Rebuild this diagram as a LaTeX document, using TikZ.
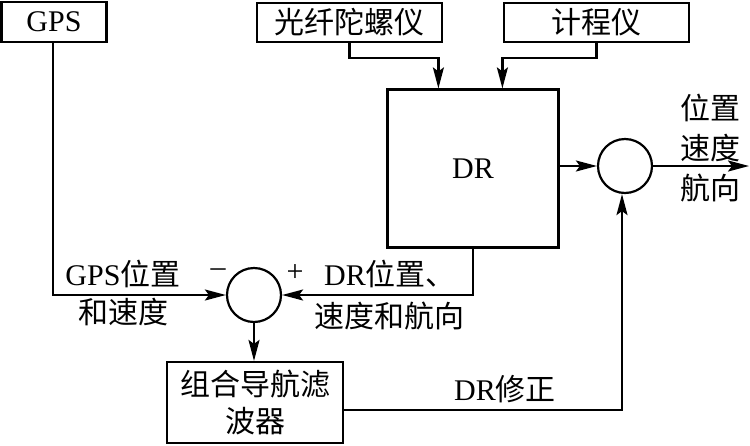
\documentclass[tikz,border=0pt]{standalone}
\usepackage{fontspec}
\setmainfont{Liberation Serif}
\newfontfamily\cjk{Noto Sans CJK SC}
\usetikzlibrary{arrows.meta,calc}
\begin{document}
\begin{tikzpicture}[x=1pt,y=-1pt,
  every node/.style={font=\fontsize{30}{37}\selectfont},
  blk/.style={draw,line width=2.2pt,inner sep=0pt,align=center},
  sumnode/.style={draw,circle,line width=2.2pt,inner sep=0pt,minimum size=54pt},
  lbl/.style={inner sep=0pt},
  conn/.style={line width=2.2pt},
  arr/.style={conn,-{Stealth[length=21pt,width=11pt,inset=4pt]}}]
\useasboundingbox (0,0) rectangle (750,445);
% blocks
\node[blk,minimum width=105pt,minimum height=40pt] (gps) at (54,22) {GPS};
\node[blk,minimum width=185pt,minimum height=39pt] (gyro) at (349.5,22.5) {\cjk 光纤陀螺仪};
\node[blk,minimum width=185pt,minimum height=39pt] (odo) at (596.5,22.5) {\cjk 计程仪};
\node[blk,minimum width=171pt,minimum height=158pt] (dr) at (473,168.5) {DR};
\node[blk,minimum width=176pt,minimum height=81pt] (filt) at (255,402.5) {{\cjk 组合导航滤}\\{\cjk 波器}};
\node[sumnode] (outc) at (625,166) {};
\node[sumnode] (sumc) at (254,295) {};
\coordinate (outend) at (749,166);
% connectors
\draw[arr] ([xshift=-1pt]gps.south) |- (sumc.west);
\draw[arr] (gyro.south) -- ++(0,15) -| ($(dr.north west)+(52,0)$);
\draw[arr] (odo.south) -- ++(0,15) -| ($(dr.north west)+(116,0)$);
\draw[arr] (dr.south) |- (sumc.east);
\draw[arr] (sumc.south) -- (filt.north -| sumc.south);
\draw[arr] (dr.east |- outc.west) -- (outc.west);
\draw[arr] (outc.east) -- (outend);
\draw[arr] ([yshift=-7.5pt]filt.east) -| ([xshift=-3pt]outc.south);
% labels
\node[lbl] (l1) at (123,274) {GPS{\cjk 位置}};
\node[lbl] (l2) at (123,312) {\cjk 和速度};
\node[lbl] (lm) at (218,273) {–};
\node[lbl] (lp) at (295,273) {+};
\node[lbl] (l3) at (390,274) {DR{\cjk 位置、}};
\node[lbl] (l4) at (389,316) {\cjk 速度和航向};
\node[lbl] (o1) at (710,108) {\cjk 位置};
\node[lbl] (o2) at (710,148) {\cjk 速度};
\node[lbl] (o3) at (710,188) {\cjk 航向};
\node[lbl] (l5) at (505,389) {DR{\cjk 修正}};
\end{tikzpicture}
\end{document}
